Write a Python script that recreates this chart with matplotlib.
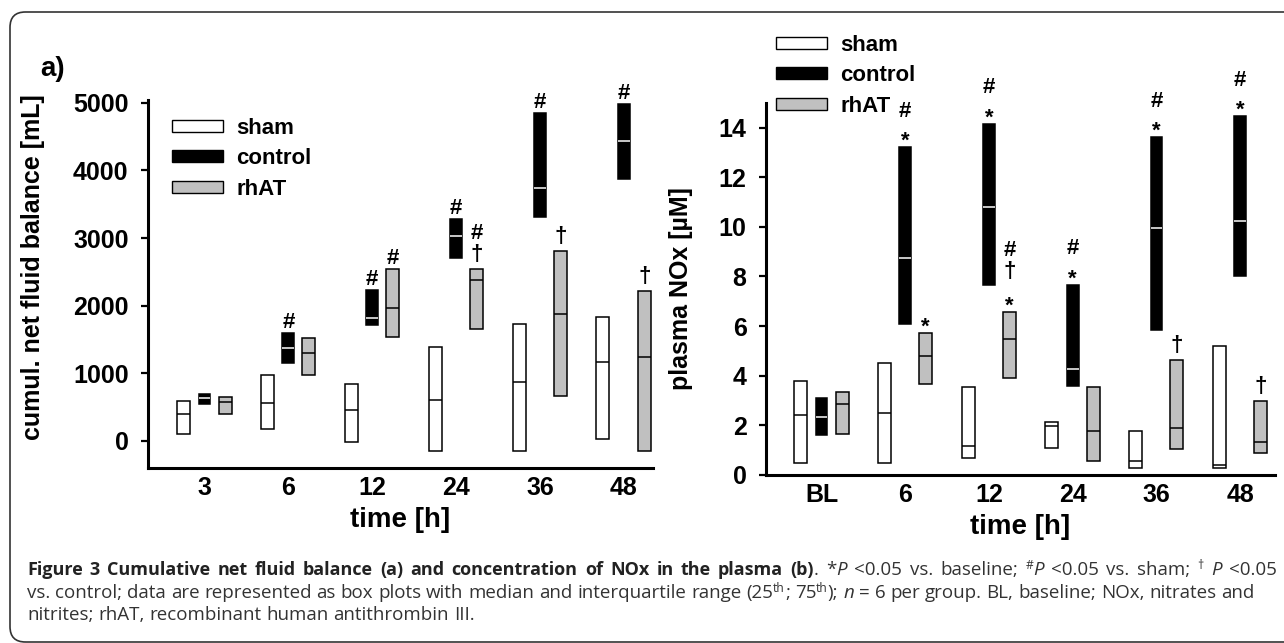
import matplotlib
matplotlib.use("Agg")
import matplotlib.pyplot as plt
from matplotlib.patches import Patch, FancyBboxPatch
import numpy as np

plt.rcParams['font.family'] = ['Liberation Sans', 'DejaVu Sans']

W, H = 1284, 643

groups = ["sham", "control", "rhAT"]
times_a = ["3", "6", "12", "24", "36", "48"]
times_b = ["BL", "6", "12", "24", "36", "48"]

# panel a: cumulative net fluid balance [mL] -> 25th, median, 75th
sham_a_q1 = [100, 180, -15, -150, -150, 25]
sham_a_med = [405, 555, 455, 600, 875, 1160]
sham_a_q3 = [590, 975, 840, 1385, 1730, 1825]
ctrl_a_q1 = [545, 1150, 1720, 2705, 3310, 3870]
ctrl_a_med = [630, 1380, 1815, 3035, 3740, 4440]
ctrl_a_q3 = [700, 1590, 2235, 3285, 4845, 4980]
rhat_a_q1 = [395, 975, 1530, 1650, 670, -150]
rhat_a_med = [580, 1305, 1960, 2385, 1880, 1245]
rhat_a_q3 = [645, 1520, 2540, 2540, 2805, 2210]

# panel b: plasma NOx [uM]
sham_b_q1 = [0.46, 0.46, 0.66, 1.09, 0.26, 0.26]
sham_b_med = [2.40, 2.51, 1.17, 1.96, 0.56, 0.39]
sham_b_q3 = [3.77, 4.51, 3.54, 2.13, 1.77, 5.18]
ctrl_b_q1 = [1.60, 6.09, 7.67, 3.58, 5.85, 8.03]
ctrl_b_med = [2.33, 8.73, 10.82, 4.28, 9.94, 10.25]
ctrl_b_q3 = [3.10, 13.22, 14.16, 7.66, 13.62, 14.47]
rhat_b_q1 = [1.66, 3.68, 3.90, 0.55, 1.03, 0.86]
rhat_b_med = [2.87, 4.77, 5.49, 1.77, 1.89, 1.30]
rhat_b_q3 = [3.34, 5.71, 6.58, 3.54, 4.61, 2.98]

# significance marks, listed bottom to top
ctrl_a_marks = {1: ["#"], 2: ["#"], 3: ["#"], 4: ["#"], 5: ["#"]}
rhat_a_marks = {2: ["#"], 3: ["\u2020", "#"], 4: ["\u2020"], 5: ["\u2020"]}
ctrl_b_marks = {1: ["*", "#"], 2: ["*", "#"], 3: ["*", "#"], 4: ["*", "#"], 5: ["*", "#"]}
rhat_b_marks = {1: ["*"], 2: ["*", "\u2020", "#"], 4: ["\u2020"], 5: ["\u2020"]}

GRAY = "#c0c0c0"
OFFS = {"sham": -0.25, "control": 0.0, "rhAT": 0.245}
WIDTHS = {"sham": 0.155, "control": 0.14, "rhAT": 0.155}
FACES = {"sham": "white", "control": "black", "rhAT": GRAY}
MEDC = {"sham": "black", "control": "white", "rhAT": "black"}
# glyph centre above baseline (px) for 16pt bold
GLYPH_MID = {"#": 8, "*": 13, "\u2020": 4}


def px_rect(x0, y0, x1, y1):
    return [x0 / W, 1 - y1 / H, (x1 - x0) / W, (y1 - y0) / H]


def draw_boxes(ax, name, q1, med, q3):
    x = np.arange(len(q1)) + OFFS[name]
    w = WIDTHS[name]
    ax.bar(x, np.subtract(q3, q1), bottom=q1, width=w, color=FACES[name],
           edgecolor="black", linewidth=1.1, zorder=2)
    ax.hlines(med, x - w / 2, x + w / 2, colors=MEDC[name], linewidth=1.1, zorder=3)


def draw_marks(ax, name, q3, marks):
    for i, syms in marks.items():
        for k, s in enumerate(syms):
            dy = 13 + 25.5 * k - GLYPH_MID[s]
            ax.annotate(s, (i + OFFS[name], q3[i]), xytext=(0, dy),
                        textcoords="offset pixels", ha="center", va="baseline",
                        fontsize=16, fontweight="bold", zorder=4)


def style_axes(ax, labels, ylabel):
    for side in ["top", "right"]:
        ax.spines[side].set_visible(False)
    for side in ["left", "bottom"]:
        ax.spines[side].set_linewidth(2.2)
    ax.set_xticks(range(len(labels)))
    ax.set_xticklabels(labels)
    ax.tick_params(axis="x", length=0, pad=6, labelsize=18)
    ax.tick_params(axis="y", length=5, width=1.6, pad=9, labelsize=18)
    for t in ax.get_xticklabels() + ax.get_yticklabels():
        t.set_fontweight("bold")
    ax.set_xlabel("time [h]", fontsize=20, fontweight="bold", labelpad=5)
    ax.set_ylabel(ylabel, fontsize=18, fontweight="bold")


def add_legend(ax, x, y):
    handles = [Patch(facecolor=FACES[g], edgecolor="black", linewidth=1.0) for g in groups]
    ax.legend(handles, groups, loc="upper left", bbox_to_anchor=(x / W, 1 - y / H),
              bbox_transform=fig.transFigure, frameon=False,
              prop={"weight": "bold", "size": 16}, handlelength=2.3, handleheight=0.45,
              handletextpad=0.6, labelspacing=0.42, borderpad=0, borderaxespad=0)


fig = plt.figure(figsize=(W / 100, H / 100), dpi=100)

# panel a
ax1 = fig.add_axes(px_rect(148, 100, 653, 468))
draw_boxes(ax1, "sham", sham_a_q1, sham_a_med, sham_a_q3)
draw_boxes(ax1, "control", ctrl_a_q1, ctrl_a_med, ctrl_a_q3)
draw_boxes(ax1, "rhAT", rhat_a_q1, rhat_a_med, rhat_a_q3)
draw_marks(ax1, "control", ctrl_a_q3, ctrl_a_marks)
draw_marks(ax1, "rhAT", rhat_a_q3, rhat_a_marks)
ax1.set_xlim(-0.673, 5.346)
ax1.set_ylim(-400, 5040)
ax1.set_yticks(range(0, 5001, 1000))
style_axes(ax1, times_a, "cumul. net fluid balance [mL]")
ax1.yaxis.set_label_coords(-0.204, 0.546)
add_legend(ax1, 172, 118)
fig.text(40 / W, 1 - 76 / H, "a)", fontsize=20, fontweight="bold", va="baseline")

# panel b
ax2 = fig.add_axes(px_rect(766, 103, 1275, 474.7))
draw_boxes(ax2, "sham", sham_b_q1, sham_b_med, sham_b_q3)
draw_boxes(ax2, "control", ctrl_b_q1, ctrl_b_med, ctrl_b_q3)
draw_boxes(ax2, "rhAT", rhat_b_q1, rhat_b_med, rhat_b_q3)
draw_marks(ax2, "control", ctrl_b_q3, ctrl_b_marks)
draw_marks(ax2, "rhAT", rhat_b_q3, rhat_b_marks)
ax2.set_xlim(-0.664, 5.417)
ax2.set_ylim(0, 15.0)
ax2.set_yticks(range(0, 15, 2))
style_axes(ax2, times_b, "plasma NOx [\u00b5M]")
ax2.yaxis.set_label_coords(-0.143, 0.5)
add_legend(ax2, 776, 35)

# rounded frame
frame = FancyBboxPatch((10 / W, 1 - 642 / H), 1400 / W, 630 / H,
                       boxstyle="round,pad=0,rounding_size=0.012",
                       mutation_aspect=W / H, transform=fig.transFigure,
                       fill=False, edgecolor="#333333", linewidth=1.2)
fig.patches.append(frame)

# caption
renderer = fig.canvas.get_renderer()
CAP = 13.5
REG = dict(family="Open Sans", size=CAP, color="#333333")
BOLD = dict(family="Open Sans", size=13, color="#222222", weight="bold")
ITAL = dict(family="Open Sans", size=CAP, color="#333333", style="italic")
SUP = dict(family="Open Sans", size=CAP * 0.65, color="#333333")


def text_width(s, props):
    a = fig.text(0, 0, "|" + s + "|", **props)
    b = fig.text(0, 0, "||", **props)
    w = a.get_window_extent(renderer).width - b.get_window_extent(renderer).width
    a.remove()
    b.remove()
    return w


def draw_runs(x, y, runs, right=None):
    # split runs into words so spaces can be stretched for a justified line
    pieces = []
    for s, props in runs:
        words = s.split(" ")
        for j, wd in enumerate(words):
            if j > 0:
                pieces.append((" ", props))
            if wd:
                pieces.append((wd, props))
    widths = [text_width(s, p) for s, p in pieces]
    extra = 0
    if right is not None:
        nsp = sum(1 for s, _ in pieces if s == " ")
        extra = max(0, (right - x - sum(widths)) / max(nsp, 1))
    for (s, props), w in zip(pieces, widths):
        if s == " ":
            x += w + extra
            continue
        dy = 6 if props is SUP else 0
        fig.text(x / W, 1 - (y - dy) / H, s, va="baseline", **props)
        x += w


line1 = [("Figure 3 Cumulative net fluid balance (a) and concentration of NOx in the plasma (b)", BOLD),
         (". *", REG), ("P", ITAL), (" <0.05 vs. baseline; ", REG), ("#", SUP), ("P", ITAL),
         (" <0.05 vs. sham; ", REG), ("\u2020", SUP), (" ", REG), ("P", ITAL), (" <0.05", REG)]
line2 = [("vs. control; data are represented as box plots with median and interquartile range (25", REG),
         ("th", SUP), ("; 75", REG), ("th", SUP), ("); ", REG), ("n", ITAL),
         (" = 6 per group. BL, baseline; NOx, nitrates and", REG)]
line3 = [("nitrites; rhAT, recombinant human antithrombin III.", REG)]

draw_runs(27, 575, line1, right=1277)
draw_runs(27, 598, line2)
draw_runs(27, 620, line3)

fig.savefig("out.png", dpi=100)
